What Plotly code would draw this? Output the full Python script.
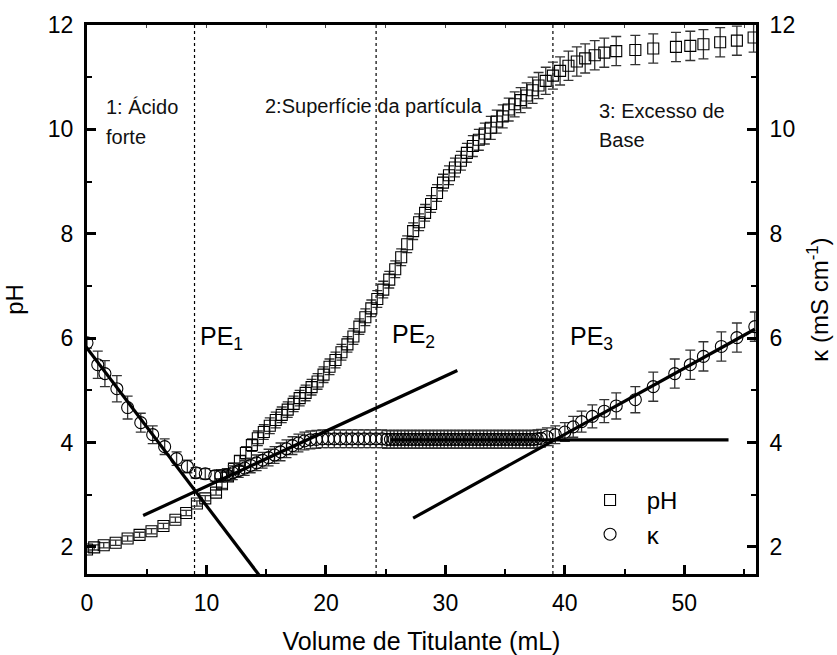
import plotly.graph_objects as go

# ---------------- data ----------------
ph_x = [0.0, 0.6, 1.4, 2.4, 3.4, 4.4, 5.4, 6.4, 7.4, 8.3, 9.2, 9.9, 10.8,
        11.3, 11.8, 12.3, 12.8, 13.3, 13.8, 14.3, 14.8, 15.3, 15.8, 16.3, 16.8,
        17.3, 17.8, 18.3, 18.8, 19.3, 19.8, 20.3, 20.8, 21.3, 21.8, 22.3, 22.8,
        23.3, 23.8, 24.3, 24.8, 25.3, 25.8, 26.3, 26.8, 27.3, 27.8, 28.3, 28.8,
        29.3, 29.8, 30.3, 30.8, 31.3, 31.8, 32.3, 32.8, 33.3, 33.8, 34.3, 34.8,
        35.3, 35.8, 36.3, 36.8, 37.3, 37.8, 38.4, 39.0, 39.6, 40.3, 41.0, 41.7,
        42.5, 43.3, 44.3, 45.9, 47.4, 49.3, 50.5, 51.6, 53.0, 54.4, 55.8]
ph_y = [1.95, 1.99, 2.03, 2.08, 2.16, 2.23, 2.30, 2.40, 2.52, 2.65, 2.83, 2.93, 3.04,
        3.20, 3.35, 3.50, 3.65, 3.80, 3.95, 4.08, 4.20, 4.32, 4.43, 4.53, 4.63,
        4.74, 4.85, 4.95, 5.06, 5.17, 5.30, 5.45, 5.58, 5.73, 5.88, 6.03, 6.22,
        6.40, 6.57, 6.75, 6.93, 7.12, 7.32, 7.55, 7.80, 8.05, 8.22, 8.40, 8.57,
        8.78, 8.98, 9.12, 9.27, 9.40, 9.55, 9.68, 9.80, 9.92, 10.03, 10.15, 10.25,
        10.38, 10.48, 10.56, 10.65, 10.75, 10.84, 10.93, 11.03, 11.12, 11.22, 11.30, 11.36,
        11.42, 11.47, 11.50, 11.52, 11.55, 11.58, 11.60, 11.63, 11.67, 11.70, 11.76]
ph_err = [0.05, 0.05, 0.05, 0.05, 0.05, 0.05, 0.05, 0.05, 0.05, 0.05, 0.05, 0.05, 0.05,
          0.08, 0.08, 0.10, 0.10, 0.12, 0.12, 0.14, 0.14, 0.15, 0.15, 0.15, 0.15,
          0.15, 0.15, 0.15, 0.15, 0.15, 0.15, 0.15, 0.15, 0.15, 0.15, 0.15, 0.15,
          0.16, 0.16, 0.16, 0.16, 0.16, 0.16, 0.16, 0.16, 0.16, 0.16, 0.16, 0.16,
          0.16, 0.16, 0.18, 0.18, 0.18, 0.18, 0.20, 0.20, 0.20, 0.22, 0.22, 0.22,
          0.22, 0.24, 0.24, 0.24, 0.25, 0.25, 0.26, 0.26, 0.27, 0.28, 0.28, 0.28,
          0.28, 0.28, 0.28, 0.28, 0.28, 0.28, 0.28, 0.28, 0.28, 0.28, 0.28]

k_x = [0.0, 0.9, 1.5, 2.5, 3.4, 4.5, 5.5, 6.5, 7.5, 8.4, 9.1, 9.9, 10.7,
       11.2, 11.7, 12.2, 12.7, 13.2, 13.7, 14.2, 14.7, 15.2, 15.7, 16.2, 16.7,
       17.2, 17.7, 18.2, 18.7, 19.2, 19.7, 20.2, 20.7, 21.2, 21.7, 22.2, 22.7,
       23.2, 23.7, 24.2, 24.7, 25.1, 25.4, 25.7, 26.0, 26.3, 26.6, 26.9, 27.2,
       27.5, 27.8, 28.1, 28.4, 28.7, 29.0, 29.3, 29.6, 29.9, 30.2, 30.5, 30.8,
       31.1, 31.4, 31.7, 32.0, 32.3, 32.6, 32.9, 33.2, 33.5, 33.8, 34.1, 34.4,
       34.7, 35.0, 35.3, 35.6, 35.9, 36.2, 36.5, 36.8, 37.1, 37.4, 37.7, 38.0,
       38.5, 39.2, 40.0, 40.7, 41.4, 42.3, 43.3, 44.3, 45.9, 47.4, 49.2, 50.5,
       51.6, 53.1, 54.4, 55.9]
k_y = [5.91, 5.49, 5.32, 5.03, 4.67, 4.38, 4.15, 3.92, 3.69, 3.54, 3.42, 3.40, 3.36,
       3.36, 3.38, 3.42, 3.46, 3.51, 3.56, 3.61, 3.66, 3.71, 3.76, 3.82, 3.88,
       3.94, 3.99, 4.03, 4.05, 4.06, 4.07, 4.07, 4.07, 4.07, 4.07, 4.07, 4.07,
       4.07, 4.07, 4.07, 4.07, 4.06, 4.06, 4.06, 4.06, 4.06, 4.06, 4.06, 4.06,
       4.06, 4.06, 4.06, 4.06, 4.06, 4.06, 4.06, 4.06, 4.06, 4.06, 4.06, 4.06,
       4.06, 4.06, 4.06, 4.06, 4.06, 4.06, 4.06, 4.06, 4.06, 4.06, 4.06, 4.06,
       4.06, 4.06, 4.06, 4.06, 4.06, 4.06, 4.06, 4.06, 4.06, 4.06, 4.07, 4.08,
       4.11, 4.15, 4.20, 4.30, 4.40, 4.50, 4.60, 4.70, 4.82, 5.07, 5.32, 5.49,
       5.65, 5.84, 6.01, 6.22]
k_err = [0.10, 0.26, 0.25, 0.25, 0.22, 0.18, 0.17, 0.15, 0.13, 0.12, 0.10, 0.10, 0.10,
         0.12, 0.12, 0.13, 0.13, 0.14, 0.14, 0.15, 0.15, 0.16, 0.16, 0.17, 0.17,
         0.17, 0.17, 0.17, 0.17, 0.17, 0.17, 0.17, 0.17, 0.17, 0.17, 0.17, 0.17,
         0.17, 0.17, 0.17, 0.17, 0.17, 0.17, 0.17, 0.17, 0.17, 0.17, 0.17, 0.17,
         0.17, 0.17, 0.17, 0.17, 0.17, 0.17, 0.17, 0.17, 0.17, 0.17, 0.17, 0.17,
         0.17, 0.17, 0.17, 0.17, 0.17, 0.17, 0.17, 0.17, 0.17, 0.17, 0.17, 0.17,
         0.17, 0.17, 0.17, 0.17, 0.17, 0.17, 0.17, 0.17, 0.17, 0.17, 0.17, 0.17,
         0.17, 0.17, 0.18, 0.2, 0.2, 0.22, 0.22, 0.25, 0.25, 0.28, 0.28, 0.28,
         0.28, 0.28, 0.28, 0.28]

# fitted straight lines (endpoints in data units)
fit_lines = [
    ([-1.2, 14.9], [6.17, 1.31]),
    ([4.7, 31.0], [2.60, 5.38]),
    ([25.4, 53.7], [4.05, 4.05]),
    ([27.3, 55.9], [2.55, 6.17]),
]
pe_x = [9.0, 24.2, 39.0]
pe_labels = ["PE<sub>1</sub>", "PE<sub>2</sub>", "PE<sub>3</sub>"]
pe_label_x = [9.3, 25.4, 40.3]
pe_label_y = [6.0, 6.05, 6.0]
region_lines = ["1: Ácido", "forte", "2:Superfície da partícula", "3: Excesso de", "Base"]
region_x = [1.4, 1.4, 14.7, 42.7, 42.7]
region_y = [10.43, 9.85, 10.45, 10.35, 9.8]
legend_names = ["&nbsp;pH", "&nbsp;κ"]

x_range = [0, 56]
y_range = [1.48, 12]
FONT = "Arial, Liberation Sans, sans-serif"

fig = go.Figure()

fig.add_trace(go.Scatter(
    x=ph_x, y=ph_y, mode="markers", name=legend_names[0],
    marker=dict(symbol="square-open", size=11, color="black", line=dict(width=1.1)),
    error_y=dict(type="data", array=ph_err, visible=True, color="#333333",
                 thickness=1.3, width=5),
))
fig.add_trace(go.Scatter(
    x=k_x, y=k_y, mode="markers", name=legend_names[1],
    marker=dict(symbol="circle-open", size=12, color="black", line=dict(width=1.1)),
    error_y=dict(type="data", array=k_err, visible=True, color="#333333",
                 thickness=1.3, width=5),
))
for lx, ly in fit_lines:
    fig.add_trace(go.Scatter(x=lx, y=ly, mode="lines", showlegend=False,
                             line=dict(color="black", width=3.2), hoverinfo="skip"))

# invisible trace to activate right axis
fig.add_trace(go.Scatter(x=[x_range[0]], y=[y_range[0]], yaxis="y2", mode="markers",
                         marker=dict(opacity=0), showlegend=False, hoverinfo="skip"))

for xv in pe_x:
    fig.add_shape(type="line", xref="x", yref="paper", x0=xv, x1=xv, y0=0, y1=1,
                  line=dict(color="black", width=1.2, dash="dot"), layer="below")

for t, xx, yy in zip(pe_labels, pe_label_x, pe_label_y):
    fig.add_annotation(x=xx, y=yy, text=t, showarrow=False, xanchor="left",
                       yanchor="middle", font=dict(size=25, color="black", family=FONT))
for t, xx, yy in zip(region_lines, region_x, region_y):
    fig.add_annotation(x=xx, y=yy, text=t, showarrow=False, xanchor="left",
                       yanchor="middle", align="left",
                       font=dict(size=20, color="#111111", family=FONT))

axis_common = dict(showline=True, linewidth=3, linecolor="black", ticks="inside",
                   tickwidth=3, ticklen=9, tickcolor="black", showgrid=False,
                   zeroline=False, automargin=False,
                   tickfont=dict(size=23, color="black", family=FONT))

fig.update_layout(
    width=837, height=655,
    margin=dict(l=87, r=81, t=25, b=81),
    plot_bgcolor="white", paper_bgcolor="white",
    font=dict(family=FONT, color="black"),
    showlegend=True,
    legend=dict(x=0.737, y=0.175, xanchor="left", yanchor="top",
                bgcolor="rgba(0,0,0,0)", font=dict(size=24, family=FONT),
                itemwidth=50, tracegroupgap=0),
    xaxis=dict(range=x_range, dtick=10, tick0=0,
               minor=dict(dtick=5, ticks="inside", ticklen=5, tickwidth=2, tickcolor="black"),
               title=dict(text="Volume de Titulante (mL)", font=dict(size=25, family=FONT),
                          standoff=22),
               ticklabelstandoff=6, mirror=True, **axis_common),
    xaxis2=dict(range=x_range, overlaying="x", side="top", showticklabels=False,
                ticks="inside", ticklen=3, tickwidth=1, dtick=5, tick0=0,
                showgrid=False, zeroline=False, showline=False, matches="x"),
    yaxis=dict(range=y_range, dtick=2, tick0=2,
               minor=dict(dtick=1, ticks="inside", ticklen=5, tickwidth=2, tickcolor="black"),
               title=dict(text="pH", font=dict(size=24, family=FONT), standoff=18),
               ticklabelstandoff=6, **axis_common),
    yaxis2=dict(range=y_range, dtick=2, tick0=2, overlaying="y", side="right",
                minor=dict(dtick=1, ticks="inside", ticklen=5, tickwidth=2, tickcolor="black"),
                title=dict(text="κ (mS cm<sup>-1</sup>)", font=dict(size=24, family=FONT),
                           standoff=18),
                ticklabelstandoff=6, **axis_common),
)
# a dummy trace on x2 so that top ticks render
fig.add_trace(go.Scatter(x=[x_range[0]], y=[y_range[0]], xaxis="x2", mode="markers",
                         marker=dict(opacity=0), showlegend=False, hoverinfo="skip"))

fig.write_html("out.html")
